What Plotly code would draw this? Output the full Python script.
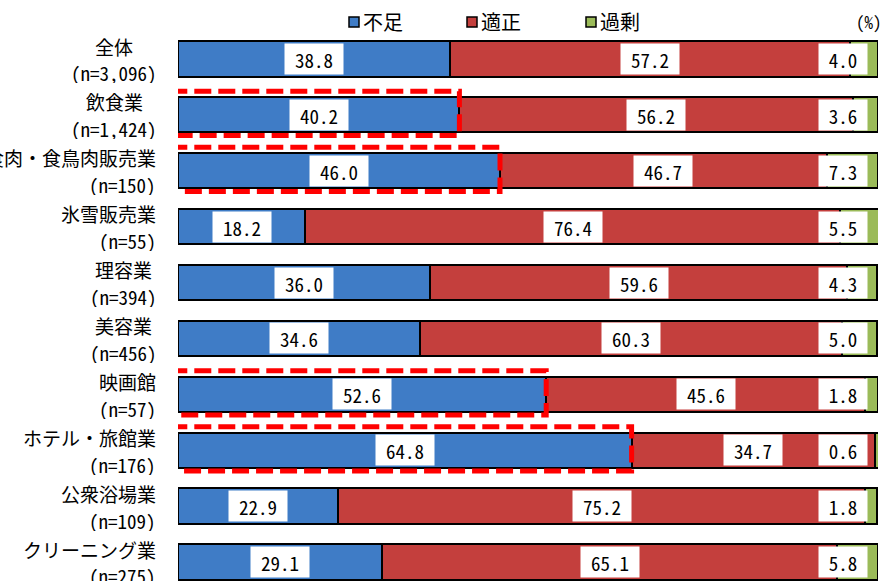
import plotly.graph_objects as go

categories = ["全体", "飲食業", "食肉・食鳥肉販売業", "氷雪販売業", "理容業",
              "美容業", "映画館", "ホテル・旅館業", "公衆浴場業", "クリーニング業"]
sample_n = ["3,096", "1,424", "150", "55", "394", "456", "57", "176", "109", "275"]
fusoku = [38.8, 40.2, 46.0, 18.2, 36.0, 34.6, 52.6, 64.8, 22.9, 29.1]
tekisei = [57.2, 56.2, 46.7, 76.4, 59.6, 60.3, 45.6, 34.7, 75.2, 65.1]
kajo = [4.0, 3.6, 7.3, 5.5, 4.3, 5.0, 1.8, 0.6, 1.8, 5.8]
series_names = ["不足", "適正", "過剰"]
highlighted = ["飲食業", "食肉・食鳥肉販売業", "映画館", "ホテル・旅館業"]

colors = ["#3f7cc6", "#c43f3d", "#9bbb59"]
FONT = "Noto Sans Mono CJK JP, Noto Sans CJK JP, sans-serif"
L, R, T = 178, 5, 31
PW = 883 - L - R
PH = 581 - T


def px_x(p):
    return (p - L) / PW


def px_y(p):
    return 1 + (T - p) / PH


def text_w(s, size):
    return sum(size * (0.5 if ord(c) < 0x2000 else 1.0) for c in s)


ypos = list(range(len(categories)))
fig = go.Figure()
for name, vals, col in zip(series_names, [fusoku, tekisei, kajo], colors):
    fig.add_trace(go.Bar(
        y=ypos, x=vals, name=name, orientation="h",
        marker=dict(color=col, line=dict(color="#000000", width=2)),
        showlegend=False, hoverinfo="x+name",
    ))

annotations = []
shapes = []
VF = 19
CF = 19
for i in ypos:
    labels = [(fusoku[i] / 2, fusoku[i]),
              (fusoku[i] + tekisei[i] / 2, tekisei[i]),
              (95.0, kajo[i])]
    for xv, val in labels:
        s = f"{val:.1f}"
        annotations.append(dict(x=xv, y=i, xref="x", yref="y", text=s,
                                showarrow=False, bgcolor="#ffffff",
                                width=int(text_w(s, VF)) + 18, height=28, borderpad=1,
                                font=dict(family=FONT, size=VF, color="#000000")))
    # category labels (two lines)
    l1 = categories[i]
    l2 = f"(n={sample_n[i]})"
    w1, w2 = text_w(l1, CF), text_w(l2, CF)
    right = 157
    if w2 > w1:
        xs = [right - w2 / 2, right - w2 / 2]
        anchor = "center"
    else:
        xs = [right, right]
        anchor = "right"
    for txt, xx, dy in [(l1, xs[0], -0.24), (l2, xs[1], 0.24)]:
        annotations.append(dict(x=px_x(xx), y=i + dy, xref="paper", yref="y",
                                text=txt, xanchor=anchor, yanchor="middle",
                                showarrow=False, borderpad=0, height=22,
                                font=dict(family=FONT, size=CF, color="#000000")))

# red dashed highlight boxes
for cat in highlighted:
    i = categories.index(cat)
    shapes.append(dict(type="rect", xref="x", yref="y", x0=-1.1, x1=fusoku[i],
                       y0=i - 0.42, y1=i + 0.37,
                       line=dict(color="#ff0000", width=5, dash="17px,7px"),
                       fillcolor="rgba(0,0,0,0)"))

# y axis line
shapes.append(dict(type="line", xref="x", yref="paper", x0=-0.15, x1=-0.15, y0=0, y1=1,
                   line=dict(color="#000000", width=2)))

# custom legend
leg_x = [349, 467, 586]
for lx, name, col in zip(leg_x, series_names, colors):
    shapes.append(dict(type="rect", xref="paper", yref="paper",
                       x0=px_x(lx), x1=px_x(lx + 10),
                       y0=px_y(27), y1=px_y(17),
                       fillcolor=col, line=dict(color="#000000", width=1.5)))
    annotations.append(dict(x=px_x(lx + 12), y=px_y(21),
                            xref="paper", yref="paper", text=name, xanchor="left",
                            yanchor="middle", showarrow=False,
                            font=dict(family=FONT, size=20, color="#000000")))
annotations.append(dict(x=px_x(884), y=px_y(21), xref="paper", yref="paper",
                        text="(%)", xanchor="right", yanchor="middle", showarrow=False,
                        font=dict(family=FONT, size=17, color="#000000")))

fig.update_layout(
    width=883, height=581,
    margin=dict(l=L, r=R, t=T, b=0, autoexpand=False),
    barmode="stack", bargap=0.37,
    plot_bgcolor="#ffffff", paper_bgcolor="#ffffff",
    xaxis=dict(range=[0, 100], showgrid=False, zeroline=False, showticklabels=False,
               ticks="", showline=False, fixedrange=True),
    yaxis=dict(range=[9.34, -0.5], showgrid=False, zeroline=False, showticklabels=False,
               ticks="", showline=False, fixedrange=True),
    annotations=annotations, shapes=shapes,
    font=dict(family=FONT),
)

fig.write_html("out.html")
